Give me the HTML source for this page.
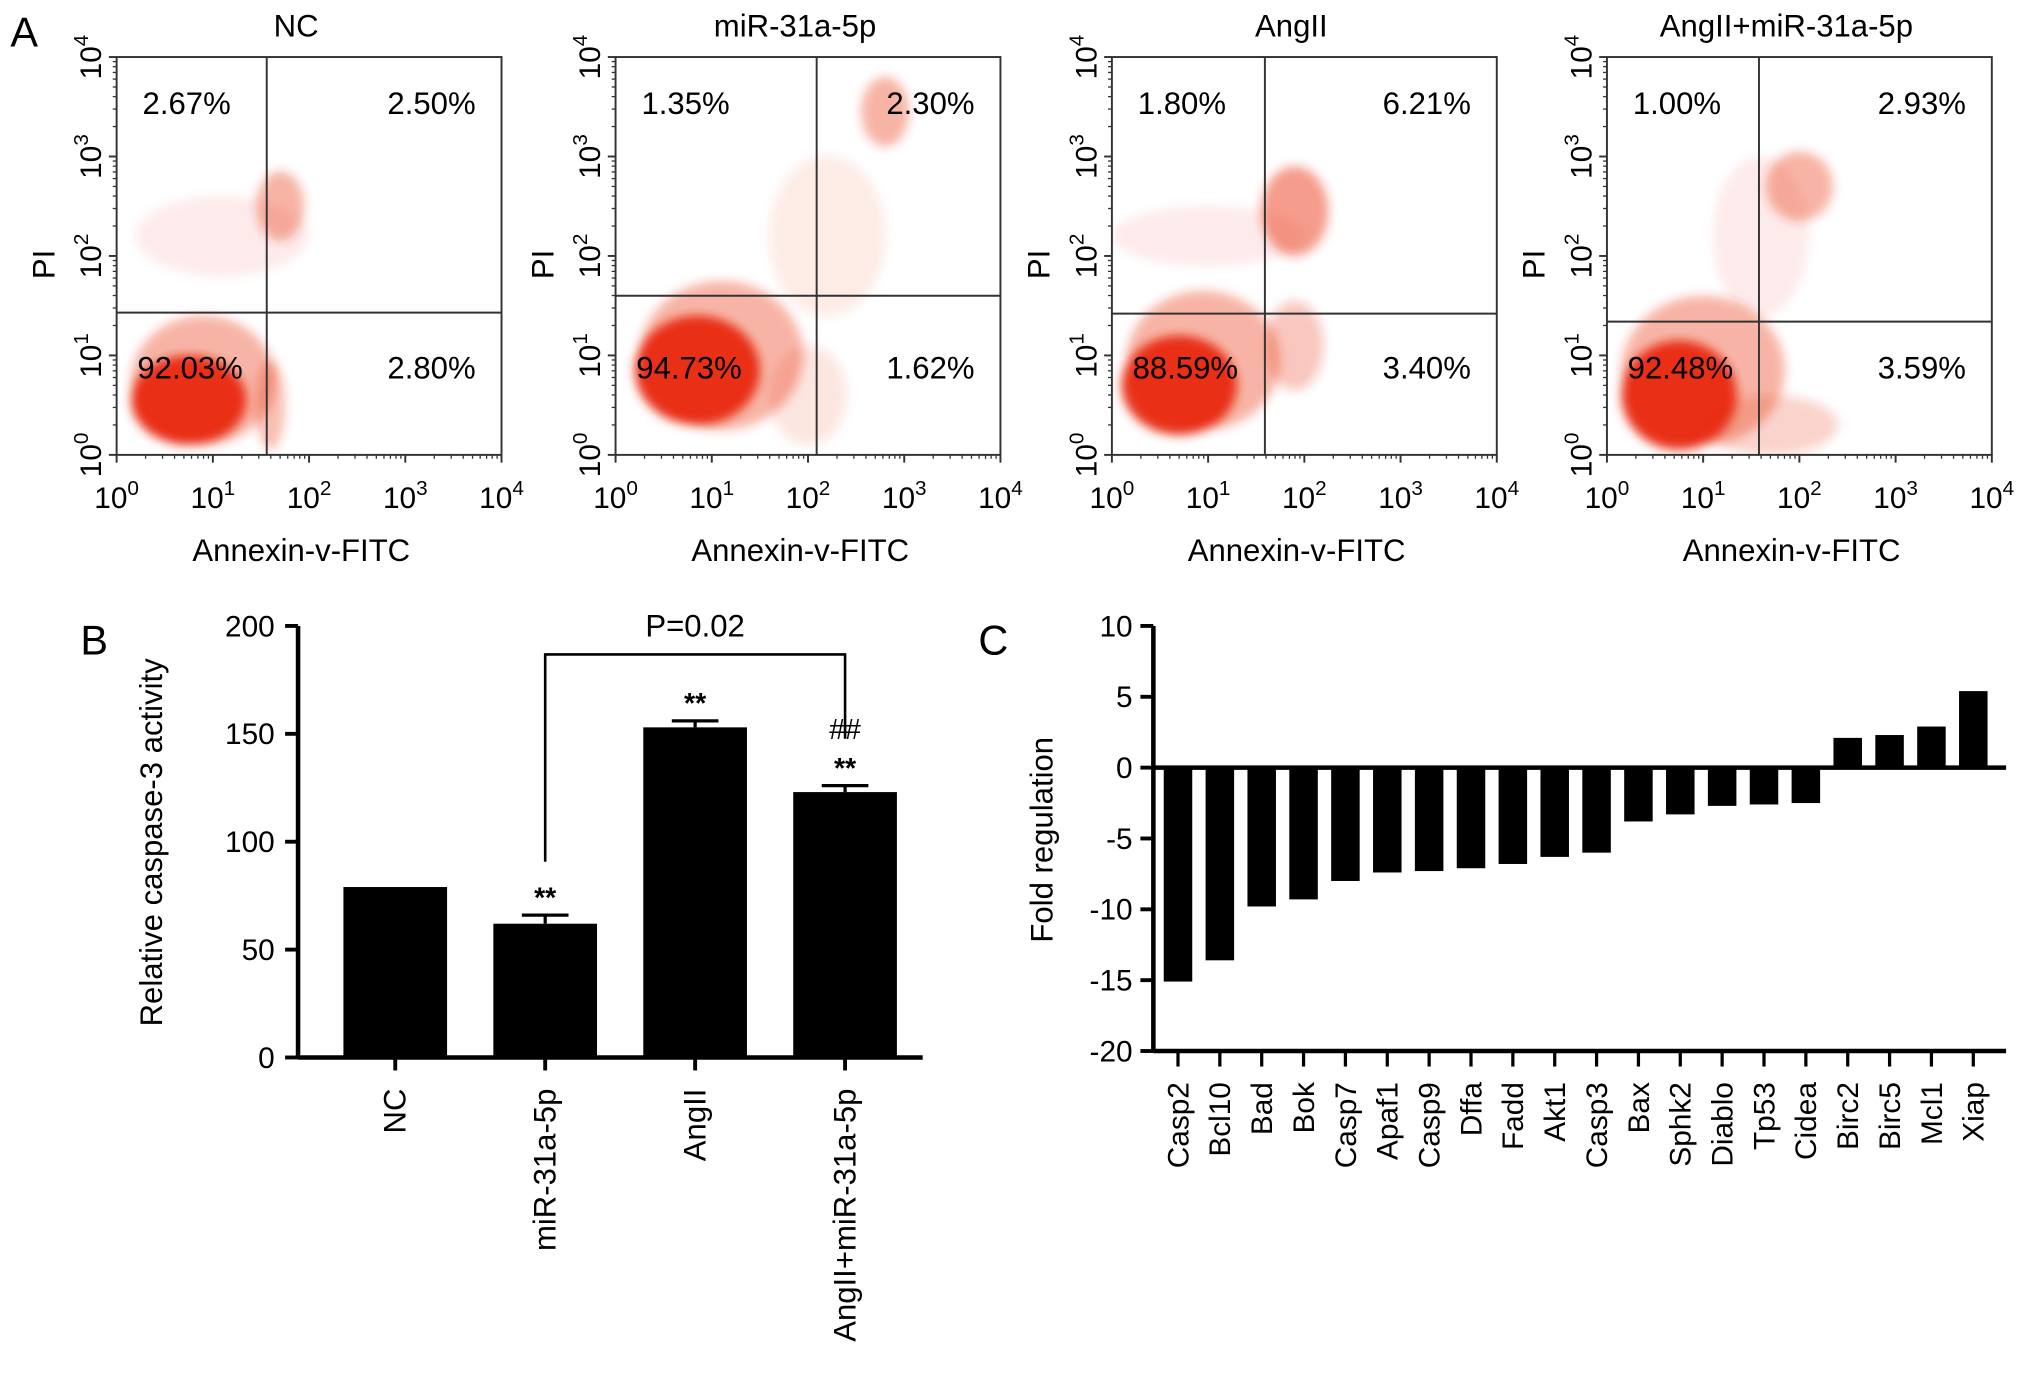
<!DOCTYPE html>
<html><head><meta charset="utf-8"><style>
html,body{margin:0;padding:0;background:#fff;}
svg{display:block;font-family:"Liberation Sans",Arial,sans-serif;}
</style></head><body>
<svg id="fig" width="2032" height="1375" viewBox="0 0 1568 1061" xmlns="http://www.w3.org/2000/svg">
<defs><filter id="blur" x="-50%" y="-50%" width="200%" height="200%"><feGaussianBlur stdDeviation="4"/></filter></defs>
<rect width="1568" height="1061" fill="#fff"/>
<g id="pa"></g>
<g id="pb"></g>
<g id="pc"></g>
</svg>
<script>
const NS="http://www.w3.org/2000/svg";
function mk(p,tag,attrs,txt){const e=document.createElementNS(NS,tag);for(const k in attrs)e.setAttribute(k,attrs[k]);if(txt!==undefined)e.textContent=txt;p.appendChild(e);return e;}

// ---------- Panel A data ----------
const flowTitles=["NC","miR-31a-5p","AngII","AngII+miR-31a-5p"];
const flowUL=["2.67%","1.35%","1.80%","1.00%"];
const flowUR=["2.50%","2.30%","6.21%","2.93%"];
const flowLL=["92.03%","94.73%","88.59%","92.48%"];
const flowLR=["2.80%","1.62%","3.40%","3.59%"];
const gateX=[1.56,2.09,1.59,1.58];
const gateY=[1.43,1.60,1.42,1.34];
// clusters in log units: [cx, cy, rx, ry, opacity]
const clusters=[
 [[0.75,0.55,0.6,0.45,0.95],[0.9,0.75,0.75,0.65,0.35],[1.7,2.5,0.25,0.35,0.35],[1.6,0.5,0.15,0.45,0.3],[1.1,2.2,0.9,0.4,0.08]],
 [[0.85,0.85,0.65,0.55,0.95],[1.1,1.0,0.85,0.75,0.35],[2.8,3.45,0.25,0.35,0.35],[2.2,2.2,0.6,0.8,0.1],[2.0,0.6,0.4,0.5,0.12]],
 [[0.7,0.7,0.6,0.5,0.95],[0.95,0.95,0.8,0.7,0.35],[1.9,2.45,0.35,0.45,0.45],[1.9,1.1,0.3,0.45,0.25],[1.0,2.2,1.0,0.3,0.08]],
 [[0.75,0.6,0.6,0.55,0.95],[1.0,0.85,0.85,0.75,0.35],[2.0,2.7,0.35,0.35,0.35],[1.7,0.3,0.7,0.3,0.2],[1.6,2.2,0.5,0.8,0.08]]
];
const decades=["0","1","2","3","4"];

const pa=document.getElementById('pa');
mk(pa,'text',{x:8,y:36,'font-size':32,fill:'#000',},'A');
const lefts=[90,475,858,1240];
const W=297,H=307,T=44;
for(let i=0;i<4;i++){
  const L=lefts[i],B=T+H;
  const g=mk(pa,'g',{});
  const sx=v=>L+v*W/4, sy=v=>B-v*H/4;
  mk(g,'text',{x:L+W/2-10,y:28,'font-size':24,'text-anchor':'middle',},flowTitles[i]);
  const clip='c'+i;
  const d=mk(g,'defs',{});const cp=mk(d,'clipPath',{id:clip});mk(cp,'rect',{x:L,y:T,width:W,height:H});
  const cgo=mk(g,'g',{'clip-path':'url(#'+clip+')'});
  const cg=mk(cgo,'g',{filter:'url(#blur)',});
  clusters[i].forEach(c=>{
    const e=mk(cg,'ellipse',{cx:sx(c[0]),cy:sy(c[1]),rx:c[2]*W/4,ry:c[3]*H/4,fill:'#e8280a','fill-opacity':c[4]});
    
    
  });
  mk(g,'rect',{x:L,y:T,width:W,height:H,fill:'none',stroke:'#333','stroke-width':1.5,});
  mk(g,'line',{x1:sx(gateX[i]),x2:sx(gateX[i]),y1:T,y2:B,stroke:'#333','stroke-width':1.5,});
  mk(g,'line',{x1:L,x2:L+W,y1:sy(gateY[i]),y2:sy(gateY[i]),stroke:'#333','stroke-width':1.5,});
  mk(g,'text',{x:L+20,y:T+44,'font-size':24,},flowUL[i]);
  mk(g,'text',{x:L+W-20,y:T+44,'font-size':24,'text-anchor':'end',},flowUR[i]);
  mk(g,'text',{x:L+16,y:T+248,'font-size':24,},flowLL[i]);
  mk(g,'text',{x:L+W-20,y:T+248,'font-size':24,'text-anchor':'end',},flowLR[i]);
  for(let k=0;k<4;k++){for(let m=2;m<10;m++){const f=k+Math.log10(m);
    mk(g,'line',{x1:sx(f),x2:sx(f),y1:B,y2:B+3,stroke:'#333','stroke-width':1});
    mk(g,'line',{x1:L-3,x2:L,y1:sy(f),y2:sy(f),stroke:'#333','stroke-width':1});}}
  decades.forEach((dd,k)=>{
    const x=sx(k),y=sy(k);
    mk(g,'line',{x1:x,x2:x,y1:B,y2:B+6,stroke:'#333','stroke-width':1.5});
    mk(g,'line',{x1:L-6,x2:L,y1:y,y2:y,stroke:'#333','stroke-width':1.5});
    const t=mk(g,'text',{x:x,y:B+41,'font-size':23,'text-anchor':'middle',});
    t.innerHTML='10<tspan dy="-10" font-size="16">'+dd+'</tspan>';
    const t2=mk(g,'text',{x:0,y:0,'font-size':23,'text-anchor':'middle',transform:`translate(${L-12},${y}) rotate(-90)`,});
    t2.innerHTML='10<tspan dy="-10" font-size="16">'+dd+'</tspan>';
  });
  mk(g,'text',{x:L+W/2-6,y:B+82,'font-size':24,'text-anchor':'middle',},'Annexin-v-FITC');
  mk(g,'text',{x:0,y:0,'font-size':24,'text-anchor':'middle',transform:`translate(${L-48},${T+160}) rotate(-90)`,},'PI');
}

// ---------- Panel B ----------
const bCats=["NC","miR-31a-5p","AngII","AngII+miR-31a-5p"];
const bVals=[79,62,153,123];
const bErr=[0,4,3,3];
const bMarks=["","**","**","**"];
const bTicks=[0,50,100,150,200];
const pb=document.getElementById('pb');
mk(pb,'text',{x:62,y:505,'font-size':32,},'B');
const bx0=230,bx1=712,by0=816,by1=483;
const byS=v=>by0-(v/200)*(by0-by1);
const bCenter=i=>305+i*115.7;
bTicks.forEach(t=>{
  mk(pb,'line',{x1:bx0-10,x2:bx0,y1:byS(t),y2:byS(t),stroke:'#000','stroke-width':3});
  mk(pb,'text',{x:bx0-18,y:byS(t)+8,'font-size':23,'text-anchor':'end',},t);
});
mk(pb,'text',{x:0,y:0,'font-size':24,'text-anchor':'middle',transform:`translate(125,650) rotate(-90)`,},'Relative caspase-3 activity');
bVals.forEach((v,i)=>{
  const c=bCenter(i);
  const r=mk(pb,'rect',{x:c-40,y:byS(v),width:80,height:by0-byS(v),fill:'#000'});
  
  
  if(bErr[i]>0){
    mk(pb,'line',{x1:c,x2:c,y1:byS(v),y2:byS(v+bErr[i]),stroke:'#000','stroke-width':2.5});
    mk(pb,'line',{x1:c-18,x2:c+18,y1:byS(v+bErr[i]),y2:byS(v+bErr[i]),stroke:'#000','stroke-width':2.5,});
  }
  if(bMarks[i]) mk(pb,'text',{x:c,y:byS(v+bErr[i])-6,'font-size':22,'font-weight':'bold','text-anchor':'middle',},bMarks[i]);
  mk(pb,'line',{x1:c,x2:c,y1:by0,y2:by0+10,stroke:'#000','stroke-width':3});
  mk(pb,'text',{x:0,y:0,'font-size':24,'text-anchor':'end',transform:`translate(${c+8},${by0+24}) rotate(-90)`,},bCats[i]);
});
mk(pb,'text',{x:bCenter(3),y:byS(bVals[3]+bErr[3])-36,'font-size':22,'text-anchor':'middle',},'##');
mk(pb,'line',{x1:bx0,x2:bx0,y1:by1,y2:by0,stroke:'#000','stroke-width':3.5,});
mk(pb,'line',{x1:bx0,x2:bx1,y1:by0,y2:by0,stroke:'#000','stroke-width':3.5,});
mk(pb,'path',{d:`M${bCenter(1)} 665 V505 H${bCenter(3)} V570`,fill:'none',stroke:'#000','stroke-width':2,});
mk(pb,'text',{x:(bCenter(1)+bCenter(3))/2,y:491,'font-size':24,'text-anchor':'middle',},'P=0.02');

// ---------- Panel C ----------
const cCats=["Casp2","Bcl10","Bad","Bok","Casp7","Apaf1","Casp9","Dffa","Fadd","Akt1","Casp3","Bax","Sphk2","Diablo","Tp53","Cidea","Birc2","Birc5","Mcl1","Xiap"];
const cVals=[-15.1,-13.6,-9.8,-9.3,-8.0,-7.4,-7.3,-7.1,-6.8,-6.3,-6.0,-3.8,-3.3,-2.7,-2.6,-2.5,2.1,2.3,2.9,5.4];
const cTicks=[10,5,0,-5,-10,-15,-20];
const pc=document.getElementById('pc');
mk(pc,'text',{x:755,y:505,'font-size':32,},'C');
const cx0=890,cx1=1548,cyTop=483,cyBot=811;
const cyS=v=>cyBot-((v+20)/30)*(cyBot-cyTop);
const cCenter=i=>909+i*32.3;
cTicks.forEach(t=>{
  mk(pc,'line',{x1:cx0-10,x2:cx0,y1:cyS(t),y2:cyS(t),stroke:'#000','stroke-width':3});
  mk(pc,'text',{x:cx0-16,y:cyS(t)+8,'font-size':23,'text-anchor':'end',},t);
});
mk(pc,'text',{x:0,y:0,'font-size':24,'text-anchor':'middle',transform:`translate(812,648) rotate(-90)`,},'Fold regulation');
cVals.forEach((v,i)=>{
  const c=cCenter(i);
  const y0=cyS(0),y1=cyS(v);
  const r=mk(pc,'rect',{x:c-11,y:Math.min(y0,y1),width:22,height:Math.abs(y1-y0),fill:'#000'});
  
  
  mk(pc,'line',{x1:c,x2:c,y1:cyBot,y2:cyBot+12,stroke:'#000','stroke-width':2.5});
  mk(pc,'text',{x:0,y:0,'font-size':23,'text-anchor':'end',transform:`translate(${c+8},${cyBot+24}) rotate(-90)`,},cCats[i]);
});
mk(pc,'line',{x1:cx0,x2:cx0,y1:cyTop,y2:cyBot,stroke:'#000','stroke-width':3.5,});
mk(pc,'line',{x1:cx0,x2:cx1,y1:cyS(0),y2:cyS(0),stroke:'#000','stroke-width':3.5,});
mk(pc,'line',{x1:cx0,x2:cx1,y1:cyBot,y2:cyBot,stroke:'#000','stroke-width':3.5,});
</script>
</body></html>
